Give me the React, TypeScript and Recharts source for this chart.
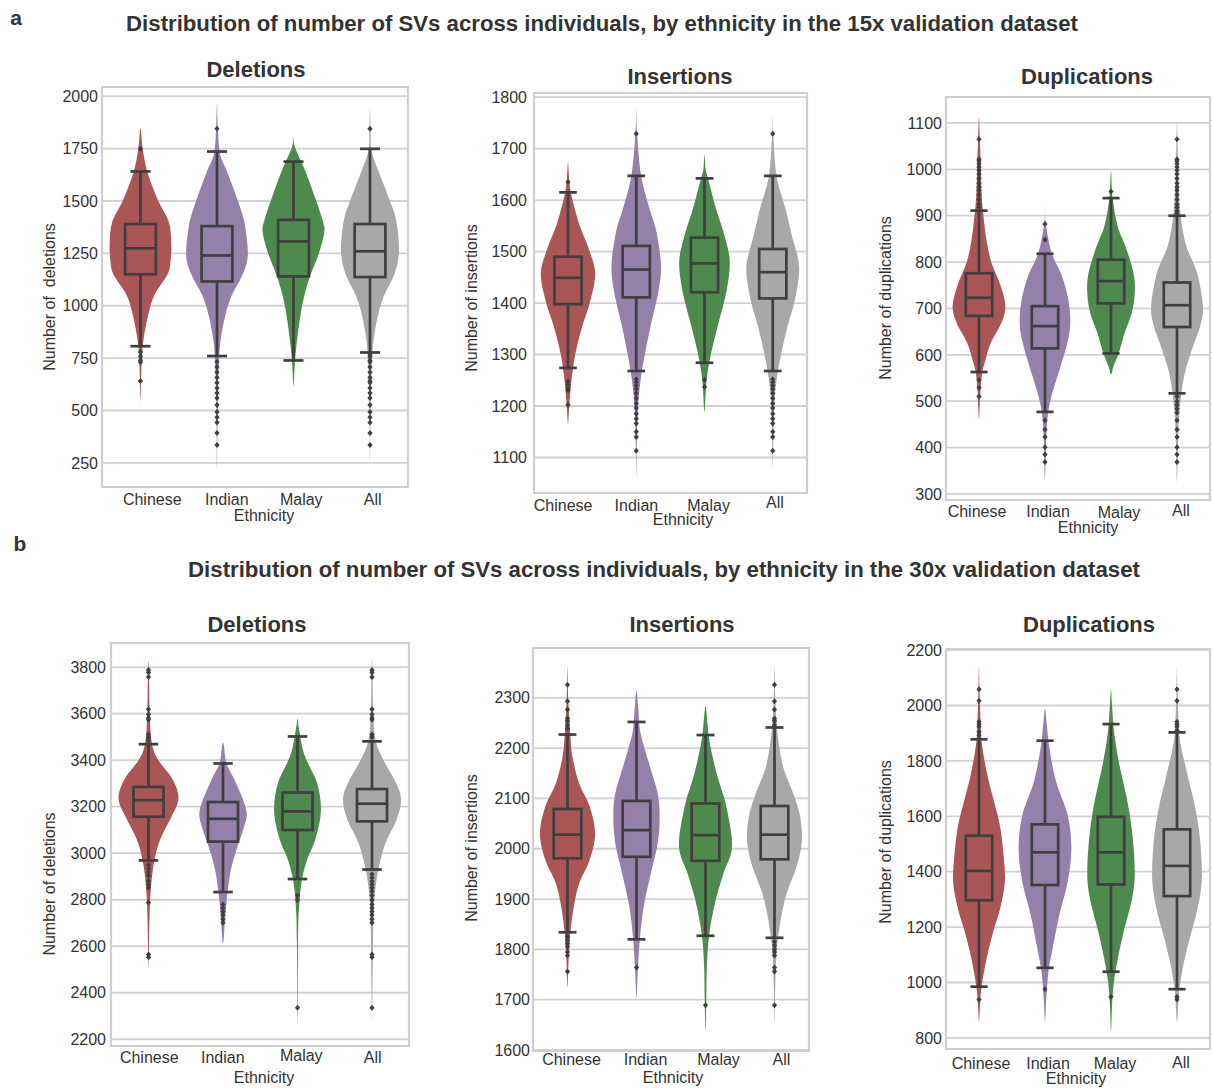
import React from "react";
import { ComposedChart, Bar, XAxis, YAxis, CartesianGrid, ReferenceArea } from "recharts";

const FONT = '"Liberation Sans", Arial, Helvetica, sans-serif';
const TEXT = "#333333";
const EDGE = "#3f3f3f";
const GRID = "#d2d2d2";

const ethnicities = ["Chinese", "Indian", "Malay", "All"];
const colors = ["#aa5656", "#9580aa", "#4e8a4d", "#a8a8a8"];

// box stats per ethnicity: [whisker low, q1, median, q3, whisker high]
// violin profiles: [value, relative density] from top to bottom
// ---------- 15x deletions ----------
const del15Ticks = [250, 500, 750, 1000, 1250, 1500, 1750, 2000];
const del15Stats = [
  [807, 1150, 1274, 1390, 1641],
  [760, 1116, 1240, 1380, 1736],
  [739, 1140, 1307, 1410, 1688],
  [777, 1137, 1260, 1390, 1749],
];
const del15Violin = [
  [[1848, 0], [1750, 0.07], [1640, 0.22], [1500, 0.58], [1400, 0.92], [1300, 1], [1220, 0.98], [1150, 0.88], [1050, 0.45], [950, 0.24], [820, 0.08], [700, 0.03], [542, 0]],
  [[1964, 0], [1840, 0.03], [1724, 0.1], [1640, 0.33], [1500, 0.68], [1390, 0.9], [1240, 1], [1145, 0.82], [1046, 0.47], [948, 0.26], [815, 0.1], [650, 0.04], [450, 0.015], [220, 0]],
  [[1807, 0], [1757, 0.05], [1641, 0.39], [1500, 0.74], [1400, 0.96], [1350, 1], [1253, 0.83], [1145, 0.55], [1046, 0.35], [948, 0.22], [815, 0.1], [716, 0.04], [617, 0]],
  [[1939, 0], [1840, 0.02], [1740, 0.05], [1641, 0.28], [1500, 0.65], [1400, 0.86], [1253, 0.94], [1145, 0.78], [1046, 0.45], [948, 0.25], [815, 0.1], [650, 0.04], [450, 0.015], [253, 0]],
];
const del15Outliers = [
  [1749, 779, 758, 740, 730, 641],
  [1845, 733, 708, 683, 658, 633, 608, 584, 560, 526, 493, 468, 443, 393, 336],
  [],
  [1845, 770, 758, 740, 733, 708, 683, 658, 641, 633, 608, 584, 560, 526, 493, 468, 443, 393, 336],
];

// ---------- 15x insertions ----------
const ins15Ticks = [1100, 1200, 1300, 1400, 1500, 1600, 1700, 1800];
const ins15Stats = [
  [1274, 1398, 1449, 1490, 1615],
  [1268, 1411, 1465, 1511, 1647],
  [1284, 1421, 1477, 1527, 1642],
  [1268, 1409, 1460, 1505, 1647],
];
const ins15Violin = [
  [[1673, 0], [1635, 0.05], [1604, 0.15], [1552, 0.42], [1503, 0.78], [1457, 1], [1402, 0.81], [1356, 0.53], [1304, 0.28], [1251, 0.13], [1202, 0.05], [1166, 0]],
  [[1777, 0], [1729, 0.03], [1647, 0.18], [1585, 0.48], [1539, 0.74], [1473, 0.91], [1421, 0.81], [1356, 0.53], [1304, 0.33], [1251, 0.16], [1193, 0.06], [1127, 0.02], [1065, 0]],
  [[1689, 0], [1660, 0.04], [1642, 0.13], [1584, 0.42], [1532, 0.73], [1480, 0.93], [1421, 0.8], [1356, 0.49], [1304, 0.25], [1251, 0.08], [1189, 0]],
  [[1764, 0], [1729, 0.02], [1647, 0.14], [1585, 0.46], [1532, 0.7], [1470, 0.97], [1408, 0.82], [1356, 0.55], [1304, 0.32], [1251, 0.14], [1193, 0.05], [1127, 0.02], [1078, 0]],
];
const ins15Outliers = [
  [1635, 1248, 1242, 1235, 1230, 1202],
  [1729, 1252, 1246, 1240, 1233, 1225, 1215, 1205, 1196, 1185, 1175, 1166, 1150, 1140, 1113],
  [1251, 1237],
  [1729, 1252, 1246, 1240, 1233, 1225, 1215, 1205, 1196, 1185, 1175, 1166, 1150, 1140, 1113],
];

// ---------- 15x duplications ----------
const dup15Ticks = [300, 400, 500, 600, 700, 800, 900, 1000, 1100];
const dup15Stats = [
  [563, 684, 723, 776, 911],
  [477, 614, 662, 705, 818],
  [603, 711, 759, 805, 938],
  [517, 660, 707, 756, 900],
];
const dup15Violin = [
  [[1112, 0], [1065, 0.03], [1022, 0.06], [950, 0.1], [911, 0.15], [849, 0.28], [799, 0.47], [749, 0.82], [705, 1], [669, 0.85], [626, 0.45], [590, 0.25], [561, 0.12], [518, 0.05], [461, 0]],
  [[921, 0], [882, 0.03], [820, 0.25], [770, 0.64], [720, 0.88], [670, 0.96], [627, 0.85], [577, 0.6], [518, 0.28], [475, 0.12], [425, 0.05], [331, 0]],
  [[997, 0], [938, 0.06], [878, 0.25], [835, 0.54], [777, 0.85], [734, 0.9], [691, 0.79], [648, 0.52], [605, 0.3], [576, 0.1], [558, 0]],
  [[1105, 0], [1065, 0.02], [986, 0.05], [900, 0.14], [835, 0.35], [777, 0.76], [705, 0.98], [662, 0.88], [612, 0.57], [554, 0.27], [482, 0.1], [410, 0.04], [327, 0]],
];
const dup15Outliers = [
  [1065, 1022, 1018, 1012, 1005, 998, 990, 980, 970, 962, 955, 945, 935, 925, 918, 546, 529, 510],
  [882, 848, 459, 439, 423, 401, 385, 369],
  [952],
  [1065, 1022, 1018, 1012, 1005, 998, 990, 980, 970, 962, 955, 945, 935, 925, 918, 910, 905, 510, 500, 492, 484, 475, 459, 439, 423, 401, 385, 369],
];

// ---------- 30x deletions ----------
const del30Ticks = [2200, 2400, 2600, 2800, 3000, 3200, 3400, 3600, 3800];
const del30Stats = [
  [2969, 3157, 3228, 3285, 3469],
  [2833, 3050, 3148, 3220, 3386],
  [2889, 3100, 3180, 3261, 3502],
  [2930, 3137, 3213, 3276, 3481],
];
const del30Violin = [
  [[3830, 0], [3755, 0.02], [3604, 0.04], [3484, 0.1], [3408, 0.29], [3318, 0.8], [3235, 1], [3152, 0.75], [3062, 0.4], [2972, 0.2], [2851, 0.08], [2701, 0.03], [2505, 0]],
  [[3476, 0], [3454, 0.04], [3386, 0.12], [3303, 0.43], [3183, 0.78], [3108, 0.69], [3032, 0.49], [2927, 0.26], [2806, 0.13], [2701, 0.06], [2610, 0]],
  [[3582, 0], [3544, 0.04], [3423, 0.23], [3303, 0.65], [3183, 0.78], [3062, 0.6], [2972, 0.32], [2881, 0.14], [2761, 0.05], [2625, 0.02], [2256, 0]],
  [[3838, 0], [3755, 0.02], [3604, 0.04], [3484, 0.12], [3393, 0.41], [3303, 0.8], [3228, 0.97], [3137, 0.8], [3047, 0.46], [2941, 0.23], [2821, 0.09], [2670, 0.04], [2279, 0]],
];
const del30Outliers = [
  [3788, 3777, 3758, 3619, 3597, 3582, 3574, 3511, 3499, 3487, 2949, 2934, 2919, 2904, 2881, 2866, 2851, 2788, 2565, 2553],
  [2779, 2764, 2749, 2734, 2716, 2701],
  [2818, 2799, 2335],
  [3788, 3777, 3758, 3619, 3597, 3582, 3574, 3511, 3499, 2910, 2895, 2880, 2866, 2851, 2836, 2818, 2799, 2779, 2764, 2749, 2734, 2716, 2701, 2565, 2553, 2335],
];

// ---------- 30x insertions ----------
const ins30Ticks = [1600, 1700, 1800, 1900, 2000, 2100, 2200, 2300];
const ins30Stats = [
  [1834, 1981, 2028, 2079, 2227],
  [1820, 1984, 2037, 2095, 2252],
  [1827, 1976, 2027, 2090, 2226],
  [1823, 1979, 2028, 2085, 2241],
];
const ins30Violin = [
  [[2362, 0], [2295, 0.03], [2229, 0.1], [2183, 0.18], [2130, 0.42], [2083, 0.81], [2030, 1], [1977, 0.8], [1931, 0.42], [1885, 0.23], [1832, 0.1], [1779, 0.04], [1723, 0]],
  [[2315, 0], [2282, 0.06], [2229, 0.15], [2163, 0.49], [2110, 0.77], [2064, 0.84], [2011, 0.77], [1951, 0.52], [1885, 0.26], [1819, 0.12], [1759, 0.05], [1703, 0]],
  [[2281, 0], [2275, 0.03], [2216, 0.14], [2150, 0.4], [2083, 0.76], [2004, 0.96], [1951, 0.65], [1898, 0.37], [1832, 0.14], [1766, 0.05], [1700, 0.03], [1636, 0]],
  [[2362, 0], [2295, 0.03], [2229, 0.11], [2163, 0.31], [2110, 0.68], [2064, 0.93], [2014, 0.99], [1964, 0.8], [1911, 0.44], [1858, 0.22], [1799, 0.08], [1733, 0.03], [1653, 0]],
];
const ins30Outliers = [
  [2326, 2293, 2277, 2259, 2254, 2246, 2239, 1825, 1818, 1811, 1805, 1795, 1788, 1756],
  [1764],
  [1689],
  [2326, 2293, 2277, 2259, 2254, 2246, 1815, 1808, 1800, 1795, 1788, 1764, 1756, 1689],
];

// ---------- 30x duplications ----------
const dup30Ticks = [800, 1000, 1200, 1400, 1600, 1800, 2000, 2200];
const dup30Stats = [
  [985, 1297, 1403, 1530, 1878],
  [1053, 1352, 1470, 1571, 1873],
  [1039, 1354, 1470, 1598, 1933],
  [976, 1312, 1421, 1553, 1903],
];
const dup30Violin = [
  [[2140, 0], [2059, 0.02], [1965, 0.05], [1869, 0.1], [1761, 0.29], [1664, 0.54], [1568, 0.79], [1472, 0.92], [1364, 0.98], [1267, 0.8], [1183, 0.54], [1087, 0.29], [985, 0.1], [919, 0.04], [858, 0]],
  [[1989, 0], [1929, 0.07], [1845, 0.17], [1725, 0.42], [1604, 0.86], [1484, 1], [1364, 0.86], [1243, 0.54], [1123, 0.29], [1039, 0.13], [943, 0.05], [858, 0]],
  [[2059, 0], [2001, 0.04], [1902, 0.12], [1785, 0.32], [1664, 0.6], [1544, 0.8], [1400, 0.9], [1304, 0.8], [1183, 0.48], [1087, 0.26], [1003, 0.11], [919, 0.04], [822, 0]],
  [[2140, 0], [2059, 0.02], [1965, 0.05], [1869, 0.12], [1761, 0.37], [1640, 0.67], [1520, 0.87], [1376, 0.94], [1267, 0.78], [1159, 0.48], [1063, 0.24], [966, 0.08], [858, 0]],
];
const dup30Outliers = [
  [2059, 2017, 1941, 1932, 1923, 1905, 1893, 939],
  [976],
  [949],
  [2059, 2017, 1941, 1932, 1923, 1910, 949, 939],
];

type Pt = [number, number];

// smooth closed curve through points (catmull-rom)
function closedSpline(pts: Pt[]) {
  const n = pts.length;
  let d = `M${pts[0][0]},${pts[0][1]}`;
  for (let i = 0; i < n; i++) {
    const p0 = pts[(i - 1 + n) % n];
    const p1 = pts[i];
    const p2 = pts[(i + 1) % n];
    const p3 = pts[(i + 2) % n];
    const c1x = p1[0] + (p2[0] - p0[0]) / 6;
    const c1y = p1[1] + (p2[1] - p0[1]) / 6;
    const c2x = p2[0] - (p3[0] - p1[0]) / 6;
    const c2y = p2[1] - (p3[1] - p1[1]) / 6;
    d += `C${c1x},${c1y} ${c2x},${c2y} ${p2[0]},${p2[1]}`;
  }
  return d + "Z";
}

const panels = [
  {
    title: "Deletions", yLabel: "Number of  deletions", ticks: del15Ticks, domain: [135, 2044],
    stats: del15Stats, violins: del15Violin, outliers: del15Outliers,
    frame: { l: 102, t: 87, r: 408, b: 487 }, titleAt: [256, 70], yLabelAt: [50, 297], xLabelAt: [264, 516],
    tickDx: [12, 10, 8, 3], tickDy: [12, 12, 12, 12], gap: 4,
  },
  {
    title: "Insertions", yLabel: "Number of insertions", ticks: ins15Ticks, domain: [1031, 1808],
    stats: ins15Stats, violins: ins15Violin, outliers: ins15Outliers,
    frame: { l: 534, t: 93, r: 807, b: 493 }, titleAt: [680, 77], yLabelAt: [472, 298], xLabelAt: [683, 520],
    tickDx: [-5, 0, 4, 2], tickDy: [12, 12, 12, 9], gap: 7,
  },
  {
    title: "Duplications", yLabel: "Number of duplications", ticks: dup15Ticks, domain: [287, 1156],
    stats: dup15Stats, violins: dup15Violin, outliers: dup15Outliers,
    frame: { l: 946, t: 97, r: 1210, b: 500 }, titleAt: [1087, 77], yLabelAt: [886, 298], xLabelAt: [1088, 528],
    tickDx: [-2, 3, 8, 4], tickDy: [11, 11, 12, 10], gap: 4,
  },
  {
    title: "Deletions", yLabel: "Number of deletions", ticks: del30Ticks, domain: [2171, 3904],
    stats: del30Stats, violins: del30Violin, outliers: del30Outliers,
    frame: { l: 111, t: 643, r: 409, b: 1046 }, titleAt: [257, 625], yLabelAt: [50, 884], xLabelAt: [264, 1078],
    tickDx: [1, 0, 4, 1], tickDy: [11, 11, 9, 11], gap: 5,
  },
  {
    title: "Insertions", yLabel: "Number of insertions", ticks: ins30Ticks, domain: [1598, 2399],
    stats: ins30Stats, violins: ins30Violin, outliers: ins30Outliers,
    frame: { l: 533, t: 648, r: 809, b: 1051 }, titleAt: [682, 625], yLabelAt: [472, 848], xLabelAt: [673, 1078],
    tickDx: [4, 9, 13, 7], tickDy: [8, 8, 8, 8], gap: 3,
  },
  {
    title: "Duplications", yLabel: "Number of duplications", ticks: dup30Ticks, domain: [760, 2204],
    stats: dup30Stats, violins: dup30Violin, outliers: dup30Outliers,
    frame: { l: 946, t: 649, r: 1210, b: 1049 }, titleAt: [1089, 625], yLabelAt: [886, 842], xLabelAt: [1076, 1079],
    tickDx: [2, 3, 4, 4], tickDy: [14, 14, 14, 13], gap: 4,
  },
];

type PanelT = (typeof panels)[number];

function makeViolinShape(panel: PanelT) {
  return (props: any) => {
    const { x, y, width, height, payload } = props;
    const i: number = payload.idx;
    const [lo, hi] = payload.span as number[];
    const toY = (v: number) => y + ((hi - v) / (hi - lo)) * height;
    const cx = x + width / 2;
    const maxHalf = width * 0.4;
    const prof = panel.violins[i] as Pt[];
    const right: Pt[] = prof.map(([v, d]) => [cx + d * maxHalf, toY(v)]);
    const left: Pt[] = prof.slice(1, -1).reverse().map(([v, d]) => [cx - d * maxHalf, toY(v)]);
    const [wLo, q1, med, q3, wHi] = panel.stats[i];
    const boxHalf = width * 0.2;
    const capHalf = width * 0.13;
    const sw = 2.7;
    return (
      <g>
        <path d={closedSpline([...right, ...left])} fill={colors[i]} stroke="none" />
        <line x1={cx} x2={cx} y1={toY(wHi)} y2={toY(q3)} stroke={EDGE} strokeWidth={sw} />
        <line x1={cx} x2={cx} y1={toY(q1)} y2={toY(wLo)} stroke={EDGE} strokeWidth={sw} />
        <line x1={cx - capHalf} x2={cx + capHalf} y1={toY(wHi)} y2={toY(wHi)} stroke={EDGE} strokeWidth={sw} />
        <line x1={cx - capHalf} x2={cx + capHalf} y1={toY(wLo)} y2={toY(wLo)} stroke={EDGE} strokeWidth={sw} />
        <rect x={cx - boxHalf} y={toY(q3)} width={boxHalf * 2} height={toY(q1) - toY(q3)} fill={colors[i]} stroke={EDGE} strokeWidth={sw} />
        <line x1={cx - boxHalf} x2={cx + boxHalf} y1={toY(med)} y2={toY(med)} stroke={EDGE} strokeWidth={sw} />
        {panel.outliers[i].map((v, k) => {
          const oy = toY(v);
          return <path key={k} d={`M${cx},${oy - 3}L${cx + 2.6},${oy}L${cx},${oy + 3}L${cx - 2.6},${oy}Z`} fill={EDGE} />;
        })}
      </g>
    );
  };
}

function EthTick(props: any) {
  const { x, y, payload, index, dxs, dys } = props;
  return (
    <text x={x + dxs[index]} y={y + dys[index]} textAnchor="middle" dominantBaseline="central" fontSize={16} fill={TEXT} fontFamily={FONT}>
      {payload.value}
    </text>
  );
}

const Y_W = 64;
const X_H = 32;
const TOP_PAD = 14;

function Panel({ panel }: { panel: PanelT }) {
  const { frame } = panel;
  const fw = frame.r - frame.l;
  const fh = frame.b - frame.t;
  const rows = ethnicities.map((eth, idx) => {
    const prof = panel.violins[idx];
    return { eth, idx, span: [prof[prof.length - 1][0], prof[0][0]] };
  });
  return (
    <div style={{ position: "absolute", left: frame.l - Y_W, top: frame.t - TOP_PAD }}>
      <ComposedChart
        width={fw + Y_W + 2}
        height={fh + X_H + TOP_PAD}
        data={rows}
        margin={{ top: TOP_PAD, right: 2, bottom: 0, left: 0 }}
        barCategoryGap="0%"
      >
        <CartesianGrid vertical={false} stroke={GRID} strokeWidth={1.8} />
        <XAxis
          dataKey="eth"
          height={X_H}
          axisLine={false}
          tickLine={false}
          tickSize={0}
          tickMargin={0}
          interval={0}
          tick={<EthTick dxs={panel.tickDx} dys={panel.tickDy} />}
        />
        <YAxis
          type="number"
          width={Y_W}
          domain={panel.domain}
          allowDataOverflow
          ticks={panel.ticks}
          interval={0}
          axisLine={false}
          tickLine={false}
          tickSize={0}
          tickMargin={panel.gap}
          tick={{ fontSize: 16, fill: TEXT, fontFamily: FONT }}
        />
        <Bar dataKey="span" shape={makeViolinShape(panel)} isAnimationActive={false} />
        <ReferenceArea y1={panel.domain[0]} y2={panel.domain[1]} fill="none" stroke="#cfcfcf" strokeWidth={2.2} ifOverflow="visible" />
      </ComposedChart>
    </div>
  );
}

function Label({ text, at, size, bold, rotate }: { text: string; at: number[]; size: number; bold?: boolean; rotate?: boolean }) {
  return (
    <div
      style={{
        position: "absolute",
        left: at[0],
        top: at[1],
        transform: `translate(-50%, -50%)${rotate ? " rotate(-90deg)" : ""}`,
        fontFamily: FONT,
        fontSize: size,
        fontWeight: bold ? 700 : 400,
        color: TEXT,
        whiteSpace: "pre",
        lineHeight: 1,
      }}
    >
      {text}
    </div>
  );
}

export default function App() {
  return (
    <div style={{ position: "absolute", left: 0, top: 0, width: 1213, height: 1088, background: "#ffffff", overflow: "hidden" }}>
      <Label text="a" at={[16, 17]} size={21} bold />
      <Label text="Distribution of number of SVs across individuals, by ethnicity in the 15x validation dataset" at={[602, 24]} size={22.2} bold />
      <Label text="b" at={[20, 543]} size={21} bold />
      <Label text="Distribution of number of SVs across individuals, by ethnicity in the 30x validation dataset" at={[664, 570]} size={22.2} bold />
      {panels.map((p, k) => (
        <React.Fragment key={k}>
          <Panel panel={p} />
          <Label text={p.title} at={p.titleAt} size={22} bold />
          <Label text={p.yLabel} at={p.yLabelAt} size={16} rotate />
          <Label text="Ethnicity" at={p.xLabelAt} size={16} />
        </React.Fragment>
      ))}
    </div>
  );
}
